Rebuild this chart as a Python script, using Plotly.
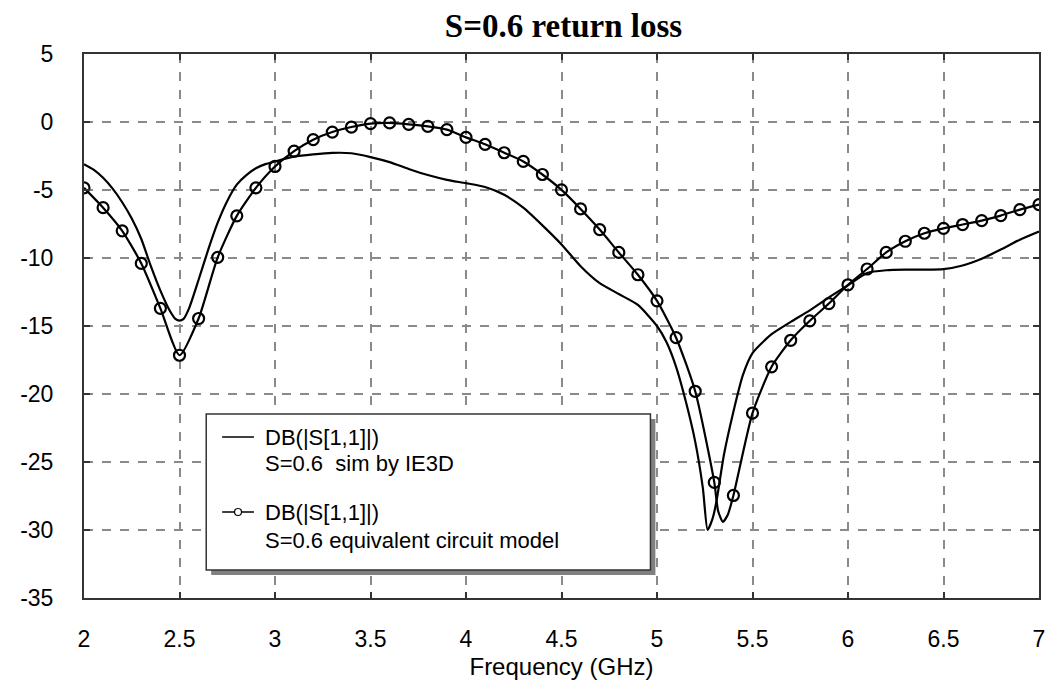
import plotly.graph_objects as go

# IE3D simulation (solid line)
sim_freq = [2.00, 2.05, 2.10, 2.15, 2.20, 2.25, 2.30, 2.35, 2.40, 2.45, 2.48, 2.50, 2.52, 2.55,
            2.60, 2.65, 2.70, 2.75, 2.80, 2.85, 2.90, 2.95, 3.00, 3.10, 3.20, 3.30, 3.40,
            3.50, 3.60, 3.70, 3.80, 3.90, 4.00, 4.10, 4.20, 4.30, 4.40, 4.50, 4.60, 4.70,
            4.80, 4.90, 5.00, 5.05, 5.10, 5.15, 5.20, 5.24, 5.265, 5.29, 5.31, 5.35, 5.40,
            5.45, 5.50, 5.60, 5.70, 5.80, 5.90, 6.00, 6.10, 6.20, 6.30, 6.40, 6.50, 6.60,
            6.70, 6.80, 6.90, 7.00]
sim_db = [-3.1, -3.5, -4.1, -4.9, -5.9, -7.1, -8.6, -10.6, -12.4, -13.9, -14.5, -14.6, -14.5, -13.7,
          -11.6, -9.4, -7.4, -5.8, -4.6, -3.9, -3.4, -3.1, -2.9, -2.55, -2.38, -2.27, -2.3,
          -2.58, -2.95, -3.45, -3.9, -4.25, -4.5, -4.78, -5.35, -6.3, -7.6, -9.0, -10.6, -11.85,
          -12.65, -13.45, -15.0, -16.2, -18.0, -20.5, -23.5, -26.9, -30.0, -29.2, -28.0, -24.5, -21.3,
          -18.6, -17.0, -15.6, -14.7, -13.85, -12.9, -12.0, -11.1, -10.9, -10.86, -10.86, -10.82, -10.55,
          -10.05, -9.38, -8.65, -8.05]

# Equivalent circuit model (markers every 0.1 GHz)
model_freq = [2.0, 2.1, 2.2, 2.3, 2.4, 2.5, 2.6, 2.7, 2.8, 2.9, 3.0, 3.1, 3.2, 3.3, 3.4, 3.5,
              3.6, 3.7, 3.8, 3.9, 4.0, 4.1, 4.2, 4.3, 4.4, 4.5, 4.6, 4.7, 4.8, 4.9, 5.0, 5.1,
              5.2, 5.3, 5.4, 5.5, 5.6, 5.7, 5.8, 5.9, 6.0, 6.1, 6.2, 6.3, 6.4, 6.5, 6.6, 6.7,
              6.8, 6.9, 7.0]
model_db = [-4.84, -6.3, -8.0, -10.4, -13.7, -17.15, -14.45, -9.95, -6.9, -4.84, -3.27, -2.14,
            -1.3, -0.74, -0.37, -0.12, -0.07, -0.17, -0.32, -0.56, -1.13, -1.64, -2.26, -2.9,
            -3.86, -4.99, -6.39, -7.91, -9.59, -11.23, -13.15, -15.86, -19.8, -26.5, -27.46,
            -21.4, -18.0, -16.05, -14.62, -13.35, -11.97, -10.81, -9.59, -8.77, -8.18, -7.82,
            -7.54, -7.25, -6.88, -6.44, -6.07]
# model curve between markers near the deep dip
model_dip_freq = [5.32, 5.345, 5.37]
model_dip_db = [-28.6, -29.4, -28.9]

x_ticks = [2, 2.5, 3, 3.5, 4, 4.5, 5, 5.5, 6, 6.5, 7]
y_ticks = [5, 0, -5, -10, -15, -20, -25, -30, -35]

title_text = "S=0.6 return loss"
x_title = "Frequency (GHz)"
legend_lines = ["DB(|S[1,1]|)", "S=0.6  sim by IE3D", "DB(|S[1,1]|)", "S=0.6 equivalent circuit model"]

# merge dip points into model line
model_line = sorted(zip(model_freq + model_dip_freq, model_db + model_dip_db))
model_line_x = [p[0] for p in model_line]
model_line_y = [p[1] for p in model_line]

fig = go.Figure()
fig.add_trace(go.Scatter(x=sim_freq, y=sim_db, mode="lines",
                         line=dict(color="black", width=2.2, shape="spline", smoothing=0.6),
                         showlegend=False, hoverinfo="skip"))
fig.add_trace(go.Scatter(x=model_line_x, y=model_line_y, mode="lines",
                         line=dict(color="black", width=2.2, shape="spline", smoothing=0.6),
                         showlegend=False, hoverinfo="skip"))
fig.add_trace(go.Scatter(x=model_freq, y=model_db, mode="markers",
                         marker=dict(symbol="circle-open", size=11, color="black",
                                     line=dict(width=2.2, color="black")),
                         showlegend=False, hoverinfo="skip"))

L, R, T, B = 84, 1045, 54, 598
W, H = 1053, 695
def px(x): return (x - L) / (R - L)
def py(y): return (B - y) / (B - T)

shapes = []
# legend shadow
shapes.append(dict(type="rect", xref="paper", yref="paper", x0=px(212), x1=px(659), y0=py(419), y1=py(575),
                   fillcolor="#808080", line=dict(width=0), layer="above"))
shapes.append(dict(type="rect", xref="paper", yref="paper", x0=px(207), x1=px(654), y0=py(414), y1=py(570),
                   fillcolor="white", line=dict(color="#333333", width=1.5), layer="above"))
shapes.append(dict(type="line", xref="paper", yref="paper", x0=px(223), x1=px(255), y0=py(437), y1=py(437),
                   line=dict(color="black", width=1.5), layer="above"))
shapes.append(dict(type="line", xref="paper", yref="paper", x0=px(223), x1=px(255), y0=py(512), y1=py(512),
                   line=dict(color="black", width=1.5), layer="above"))
shapes.append(dict(type="circle", xref="paper", yref="paper", x0=px(235.5), x1=px(242.5), y0=py(508.5), y1=py(515.5),
                   fillcolor="white", line=dict(color="black", width=1.2), layer="above"))

annotations = []
for txt, yy in zip(legend_lines, [437, 463, 512, 540]):
    annotations.append(dict(text=txt, xref="paper", yref="paper", x=px(264), y=py(yy),
                            xanchor="left", yanchor="middle", showarrow=False,
                            font=dict(family="Liberation Sans, Arial", size=22, color="black")))

fig.update_layout(
    width=W, height=H,
    margin=dict(l=L, r=W - R, t=T, b=H - B),
    paper_bgcolor="white", plot_bgcolor="white",
    title=dict(text="<b>" + title_text + "</b>", x=(443 + 684) / 2 / W, xanchor="center",
               y=1 - 25 / H, yanchor="middle",
               font=dict(family="Liberation Serif, Times New Roman", size=33, color="black")),
    shapes=shapes, annotations=annotations,
    showlegend=False,
)
fig.update_xaxes(range=[2, 7], tickvals=x_ticks, ticktext=[f"{v:g}" for v in x_ticks],
                 showgrid=True, gridcolor="#8a8a8a", gridwidth=1.5, griddash="dash",
                 showline=True, linecolor="#333333", linewidth=2, mirror="ticks",
                 ticks="inside", ticklen=6, tickcolor="#333333", tickwidth=1.5,
                 ticklabelstandoff=19, zeroline=False,
                 tickfont=dict(family="Liberation Sans, Arial", size=23, color="black"),
                 title=dict(text=x_title, standoff=8,
                            font=dict(family="Liberation Sans, Arial", size=24, color="black")))
fig.update_yaxes(range=[-35, 5], tickvals=y_ticks, ticktext=[f"{v:g}" for v in y_ticks],
                 showgrid=True, gridcolor="#8a8a8a", gridwidth=1.5, griddash="dash",
                 showline=True, linecolor="#333333", linewidth=2, mirror="ticks",
                 ticks="inside", ticklen=6, tickcolor="#333333", tickwidth=1.5,
                 ticklabelstandoff=24, zeroline=False,
                 tickfont=dict(family="Liberation Sans, Arial", size=23, color="black"))

fig.write_html("out.html")
